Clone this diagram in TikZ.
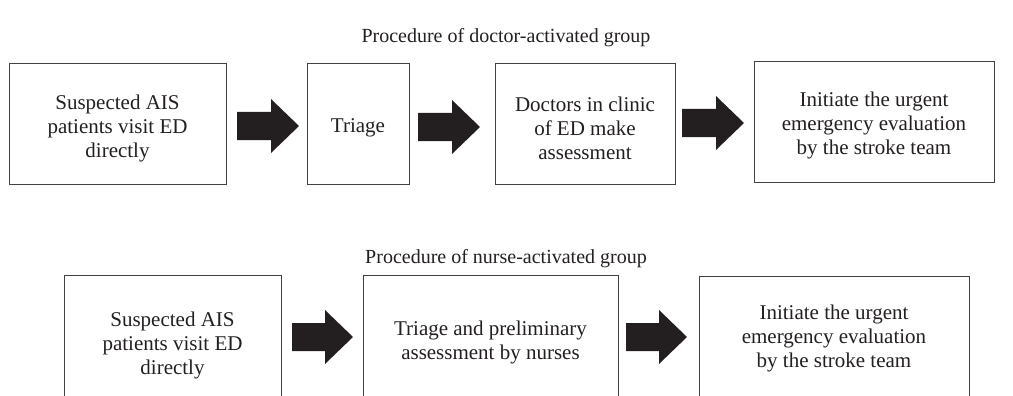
\documentclass[tikz,border=0pt]{standalone}
\usepackage{fontspec}
\setmainfont{Liberation Serif}
\usetikzlibrary{calc}
\definecolor{ink}{HTML}{231F20}
\tikzset{
  box/.style={draw=ink!85, line width=0.9pt, rectangle, inner sep=0pt},
  txt/.style={align=center, text=ink, font=\fontsize{21}{24}\selectfont, inner sep=0pt},
  fatarrow/.style={fill=ink, draw=none},
  title/.style={text=ink, font=\fontsize{20}{24}\selectfont, inner sep=0pt}
}
% fat arrow from named start (#1s) to named tip (#1e)
\newcommand\fatarr[4]{%
  \coordinate (#1s) at (#2,#4);
  \coordinate (#1e) at (#3,#4);
  \fill[fatarrow] ($(#1s)+(0,-14)$) -- ($(#1e)+(-28,-14)$) -- ($(#1e)+(-28,-27)$)
    -- (#1e) -- ($(#1e)+(-28,27)$) -- ($(#1e)+(-28,14)$) -- ($(#1s)+(0,14)$) -- cycle;}
\begin{document}
\begin{tikzpicture}[x=1pt,y=-1pt]
\useasboundingbox (0,0) rectangle (1013,396);
\begin{scope}
\clip (0,0) rectangle (1013,396);
% top row
\node[title] (t1) at (506,38) {Procedure of doctor-activated group};
\node[box, minimum width=217pt, minimum height=121pt] (b1) at (117.5,124) {};
\node[box, minimum width=102pt, minimum height=121pt] (b2) at (358,124) {};
\node[box, minimum width=180pt, minimum height=121pt] (b3) at (585,124) {};
\node[box, minimum width=240pt, minimum height=121pt] (b4) at (874,122) {};
\node[txt] (b1t) at ([yshift=-4pt]b1.center) {Suspected AIS\\patients visit ED\\directly};
\node[txt] (b2t) at ([yshift=-4pt]b2.center) {Triage};
\node[txt] (b3t) at ([yshift=-4pt]b3.center) {Doctors in clinic\\of ED make\\assessment};
\node[txt] (b4t) at ([yshift=-3pt]b4.center) {Initiate the urgent\\emergency evaluation\\by the stroke team};
\fatarr{a1}{237}{299}{126}
\fatarr{a2}{418}{480}{127}
\fatarr{a3}{682}{744}{123}
% bottom row
\node[title] (t2) at (506,259) {Procedure of nurse-activated group};
\node[box, minimum width=217pt, minimum height=140pt] (c1) at (172.5,345) {};
\node[box, minimum width=255pt, minimum height=140pt] (c2) at (490.5,345) {};
\node[box, minimum width=270pt, minimum height=140pt] (c3) at (834,346) {};
\node[txt] (c1t) at (c1.center) {Suspected AIS\\patients visit ED\\directly};
\node[txt] (c2t) at ([yshift=3pt]c2.center) {Triage and preliminary\\assessment by nurses};
\node[txt] (c3t) at ([yshift=8pt]c3.center) {Initiate the urgent\\emergency evaluation\\by the stroke team};
\fatarr{a4}{292}{353}{337}
\fatarr{a5}{626}{687}{337}
\end{scope}
\end{tikzpicture}
\end{document}
